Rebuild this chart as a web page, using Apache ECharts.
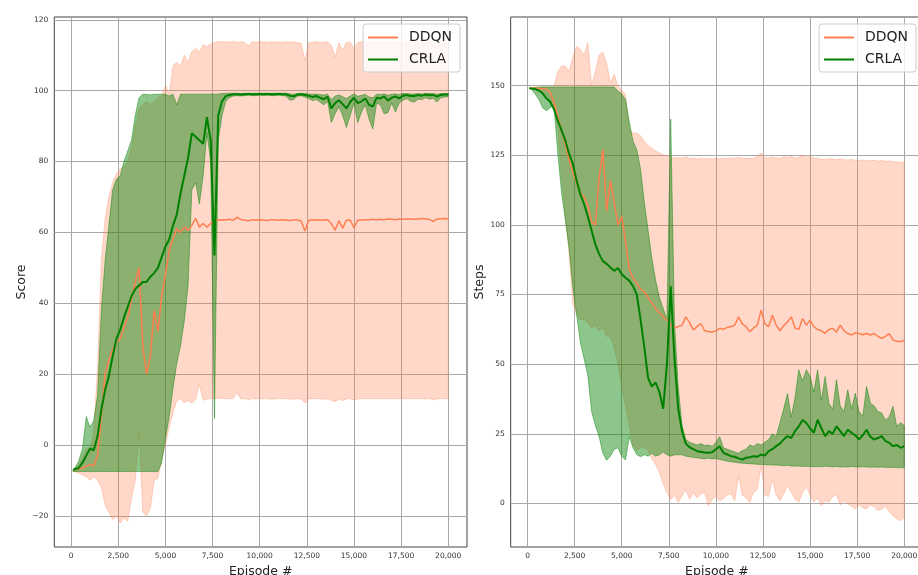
<!DOCTYPE html>
<html><head><meta charset="utf-8">
<script src="https://cdn.jsdelivr.net/npm/echarts@6/dist/echarts.min.js"></script>
<style>html,body{margin:0;padding:0;background:#fff}#c{width:918px;height:575px}</style>
</head><body><div id="c"></div>
<script>
const episodes = [100,200,400,600,800,1000,1200,1400,1600,1800,
 2000,2200,2400,2600,2800,3000,3200,3400,3600,3800,
 4000,4200,4400,4600,4800,5000,5200,5400,5600,5800,
 6000,6200,6400,6600,6800,7000,7200,7400,7600,7800,
 8000,
 8200,8400,8600,8800,9000,9200,9400,9600,9800,10000,
 10200,10400,10600,10800,11000,11200,11400,11600,11800,12000,
 12200,12400,12600,12800,13000,13200,13400,13600,13800,14000,
 14200,14400,14600,14800,15000,15200,15400,15600,15800,16000,
 16200,16400,16600,16800,17000,17200,17400,17600,17800,18000,
 18200,18400,18600,18800,19000,19200,19400,19600,19800,20000];

const xTicks = [0,2500,5000,7500,10000,12500,15000,17500,20000];
const scoreTicks = [-20,0,20,40,60,80,100,120];
const stepsTicks = [0,25,50,75,100,125,150];
const seriesNames = ['DDQN','CRLA'];

// ---- Score (left) ----
const scoreDdqnMean = [-7,-7,-6.8,-6.5,-6,-5.5,-5.8,-3,8,20,
 24,27,29,30,33,36,41,46,50,28,
 20,25,38,32,42,48,55,58,61,60,
 61.5,60.5,62,64,61.5,62.5,61.5,62.5,63,63.5,
 63.6,
 63.5,63.7,63.4,64.3,63.6,63.5,63.2,63.6,63.4,63.6,
 63.5,63.3,63.6,63.5,63.4,63.6,63.5,63.3,63.6,63.5,
 63.2,60.4,63.4,63.5,63.6,63.4,63.5,63.6,62.5,60.6,
 63.3,61.2,63.4,63.5,61.3,63.4,63.5,63.6,63.6,63.7,
 63.6,63.7,63.6,63.8,63.7,63.6,63.8,63.7,63.8,63.8,
 63.7,63.8,63.9,63.8,63.7,63.1,63.8,63.8,63.9,63.8];
const scoreDdqnUpper = [-7,-6.5,-5.5,-3.5,-1,-1.5,4,22,52,64,
 70,74,76.5,78,78.5,80,84,90,95,96,
 97,96,97,98,98.5,101.5,99,107,108,107,
 110,108,111,112,111,113,112.5,113.2,113.6,113.8,
 113.8,
 113.8,113.7,113.9,113.6,113.8,113.7,112.6,113.8,113.7,113.8,
 113.8,113.6,113.8,113.7,113.8,113.6,113.8,113.7,113.8,113.6,
 113.3,108.5,113.5,113.7,113.8,113.6,113.7,113.8,112.8,109.5,
 113.5,111.5,113.6,113.7,112,113.6,113.8,113.7,113.8,113.8,
 113.7,113.8,113.6,113.8,113.7,113.8,113.7,113.8,113.7,113.8,
 113.8,113.7,113.8,113.7,113.8,113.2,113.8,113.7,113.8,113.8];
const scoreDdqnLower = [-7.5,-7.5,-8,-8.5,-9,-10,-9,-10,-12,-17,
 -19,-21,-20,-22,-20.5,-21.5,-15,-10,4,-19,
 -20,-18,-10,-9.5,-4,0,5,9,12.5,13,
 12,12.5,11.8,12.8,17,12.6,13,13.1,13,13.2,
 13.1,
 13.1,13,13.2,14.8,13,13.1,12.8,13.1,13,13.1,
 13,13.1,12.9,13,13.1,13,13.1,12.9,13,13.1,
 13,11.8,13,13.1,13,13.1,12.9,13,12.6,12.2,
 13,12.5,13,13.1,12.6,13,13.1,13,13.1,13,
 13.1,13,13.1,13,13.1,13,13.1,13,13.1,13,
 13.1,13,13.1,13,13.1,12.7,13,13.1,13,13.1];
const scoreCrlaMean = [-7,-7,-6.5,-5,-3,-1,-1.5,2.5,10,15.5,
 19.5,25,30,32.5,36,39,42,44,45,46,
 46,47.5,48.5,50,53,56,58,62,65,71,
 76,81,88,87,86,85,92.5,86,53.5,93,
 97,
 98.5,98.8,99,99,98.9,99,99.1,99,99,99.1,
 99,99.1,99,99,99.1,99,99,98.6,98.4,98.9,
 99,98.8,98.6,98.2,98.5,98,97.6,98.3,95,96.5,
 97.3,96.2,95,96.8,98,96.5,97,97.8,96,95.5,
 98,97.8,98.4,97.2,98,98.4,97.8,98.6,98.8,98.5,
 98.5,98.8,98.6,98.9,98.7,98.8,98.3,98.8,98.9,98.9];
const scoreCrlaUpper = [-7,-6.5,-4.5,-1,8,5,7,14,38,52,
 62,72,75,76,80,83,86,93,98,99,
 99,98.8,99,99,99,99,98.5,99,96,99,
 99,99,99,99,99,99,99,99,99,99,
 99.2,
 99.2,99.3,99.3,99.3,99.2,99.3,99.3,99.3,99.3,99.3,
 99.3,99.3,99.3,99.3,99.3,99.3,99.3,99.1,99,99.2,
 99.3,99.2,99.1,99,99.1,98.9,98.8,99,97.5,98.5,
 98.8,98.3,97.8,98.5,99.1,98.4,98.7,99,98.2,98,
 99,98.9,99.1,98.7,99,99.1,98.9,99.2,99.2,99.1,
 99.1,99.2,99.1,99.2,99.2,99.2,99,99.2,99.2,99.2];
const scoreCrlaLower = [-7.5,-7.5,-7.5,-7.5,-7.5,-7.5,-7.5,-7.5,-7.5,-7.5,
 -7.5,-7.5,-7.5,-7.5,-7.5,-7.5,-7.5,-7.5,-7.5,-7.5,
 -7.5,-7.5,-7.5,-7.5,-5,2,8,16,23,28,
 35,45,72,74,68,76,88,80,7.5,86,
 93,
 97,98,98.5,98.6,98.5,98.6,98.7,98.6,98.6,98.7,
 98.6,98.7,98.6,98.6,98.7,98.6,98.5,97.3,97.5,98.4,
 98.6,98.2,97.8,97.2,97.5,96.8,96,97,91,93.5,
 95.5,93,89.6,93,96.5,91,94,96,92,89.2,
 96.5,96,93.5,93.8,96.5,94,96.5,97.3,97.8,97,
 96.8,97.6,97.5,98,97.6,97.8,96.8,98,98.2,98.3];

// ---- Steps (right) ----
const stepsDdqnMean = [149,149,149,149,148.8,148.6,147.5,144,139,134,
 129,123.5,119,115,111.5,110,107,101,100,117,
 127,105,116,108,100,103,94,84,81,79,
 77,76,74,72,70,68.5,67,66,64,63,
 63.5,
 64,67,65,62.3,63.5,64.6,62,61.7,61.5,62,
 62.9,62.5,63.2,63.5,64,67,64.5,63.5,61.7,63,
 64,69.4,64.5,63.5,67.6,64,62,63.8,65.2,67,
 63,62.5,66.4,64,65.8,63.5,62.5,62,61.1,62.5,
 62.8,61.5,64,62,61,60.5,61.2,61,60.6,61,
 60.5,61,60,59.3,60,61,58.7,58.2,58.1,58.6];
const stepsDdqnUpper = [149.2,149.3,149.4,149.5,149.5,149.5,149.5,149.6,155,157,
 157,155,160,164,163,161,165.5,150,155,161,
 162,158,151,154,150,148,147,134,133,133,
 132,130,128.5,127.5,126.5,125.8,125.2,124.8,124.3,124,
 124.2,
 124,124.5,123.8,124,123.6,124,123.7,123.9,123.6,124,
 123.7,123.9,123.8,124.1,123.8,124.3,123.9,123.8,124,123.9,
 124.5,125.8,124.3,124,124.4,124.1,123.8,124.5,124.2,124.6,
 124,124.3,125,124.3,124.6,124,123.8,123.6,123.5,123.8,
 123.6,123.4,123.7,123.4,123.3,123.5,123.2,123.1,123.3,123.1,
 123,123.2,122.9,123.1,122.8,123,122.7,122.6,122.5,122.5];
const stepsDdqnLower = [148.8,148.8,148.5,148,147.5,146.5,145,142,135,118,
 104,90,72,68,66,66,65,63,64,62,
 63,60,60,56,50,42,35,28,21,19,
 20,20,19,16,14,11,7,4,1.5,3,
 0.5,
 2.7,5,1.5,3.9,2,3.5,4,-0.8,1.5,2.5,
 1,1.8,3,3.5,1,9.9,3,2,0.4,4,
 5,13.5,3,2.5,8.7,3,1,3.5,6.3,4,
 1.5,0.5,4,6,3,0.5,2,-0.8,1,0.5,
 2.5,3,-0.5,1,0,-1,-2,-0.5,-1.5,-2,
 -0.5,-1.2,-2.5,-2,-1,-3,-4.4,-5.5,-6.2,-5];
const stepsCrlaMean = [149,149,148.8,148.2,147.2,145.4,144.2,141.5,137.5,134,
 130.4,125.6,122,116,111,107.5,103,98,93,89.5,
 87,86,84.7,83.5,84.5,82.3,81,80,78,75,
 66,56,45,42,43.5,40,34,50,78,52,
 34,
 26,21.5,20.2,19.5,18.8,18.6,18.3,18.2,18.4,19.5,
 20.5,18.2,17.6,17,16.8,16.2,15.8,16.4,16.6,17,
 16.8,17.6,17.2,18.8,19.5,20.6,21.5,23,24.2,23.5,
 26,27.7,30,28.9,27,25.4,30.1,27,24.2,26,
 25,27.7,26,24.2,26.5,25.4,24.5,23,24.5,26.5,
 24,23,23.5,24.2,22.5,21.8,20.6,21,20,20.6];
const stepsCrlaUpper = [149,149,149.3,149.4,149.5,149.5,149.5,149.5,149.5,149.5,
 149.5,149.5,149.5,149.5,149.5,149.5,149.5,149.5,149.5,149.5,
 149.5,149.5,149.5,149.5,148,147,145,137,130,127,
 120,108,98,88,80,74,70,66,138,65,
 42,
 28,23,22,21.5,21,21.5,20.8,21,20.5,22,
 24,20,19.5,19,18.5,18,19,19.5,21,20.5,
 21.5,21,22,23,25,24,29,34,39.5,31,
 38,48,44,48,45.6,40,48,37,45.6,36,
 33.7,44.4,35,33,40.8,34,39.6,33,31.3,42,
 36,35,33,32.5,30,31,34.9,27.7,29,28];
const stepsCrlaLower = [149,148.8,147,145,142,141,142,143,126,112,
 102,92,78,68,58,52,46,33,28,24,
 18,15.5,17,19.5,20,17,15.6,24,20,17.5,
 16.8,17.5,17,18,17,17.5,18.5,17.5,17,17.5,
 17.5,
 17.5,17,16.8,16.5,16.4,16.2,16,16.3,16,16.2,
 15.8,15.5,15.2,15,14.8,14.6,14.5,14.4,14.3,14.2,
 14.1,14,13.9,13.9,13.8,13.8,13.7,13.6,13.7,13.5,
 13.4,13.5,13.3,13.4,13.3,13.2,13.3,13.2,13.4,13.3,
 13.2,13.3,13.1,13.2,13.1,13.3,13.2,13.1,13.2,13.1,
 13,13.1,13,13.1,13,12.9,13,12.9,12.8,12.9];

const DDQN_COLOR = '#FF7F50';
const CRLA_COLOR = '#008000';
const FONT = 'DejaVu Sans';

function pairs(ys){ return episodes.map((x,i)=>[x, ys[i]]); }
// One filled polygon per band, built from the axis scales via api.coord
function band(lower, upper, color, alpha, gi){
  return {type:'custom', xAxisIndex:gi, yAxisIndex:gi, silent:true, clip:true, animation:false,
    data: episodes.map((x,i)=>[x, lower[i], upper[i]]),
    encode:{x:0, y:[1,2]},
    renderItem: function(params, api){
      if (params.dataIndex !== 0) return null;
      const pts = [];
      for (let i=0;i<episodes.length;i++) pts.push(api.coord([episodes[i], upper[i]]));
      for (let i=episodes.length-1;i>=0;i--) pts.push(api.coord([episodes[i], lower[i]]));
      return {type:'polygon', shape:{points:pts},
        style:{fill:color, opacity:alpha, stroke:color, lineWidth:1}};
    }};
}
function meanLine(name, ys, color, width, gi){
  return {type:'line', name:name, xAxisIndex:gi, yAxisIndex:gi, data:pairs(ys), symbol:'none',
    lineStyle:{color:color, width:width}, itemStyle:{color:color}, silent:true, animation:false, clip:true};
}
const minusFmt = v => v < 0 ? '\u2212' + Math.abs(v) : String(v);
function xAxis(gi){
  return {type:'value', gridIndex:gi, min:-895, max:20995,
    name:'Episode #', nameLocation:'middle', nameGap:16,
    nameTextStyle:{fontFamily:FONT, fontSize:12.5, color:'#222'},
    axisLine:{show:false},
    axisTick:{show:false, customValues:xTicks},
    axisLabel:{customValues:xTicks, formatter:v=>echarts.format.addCommas(v), fontFamily:FONT, fontSize:7.5, color:'#333', margin:5},
    splitLine:{show:true, lineStyle:{color:'#a8a8a8', width:1}}};
}
function yAxis(gi, min, max, ticks, name, gap){
  return {type:'value', gridIndex:gi, min:min, max:max,
    name:name, nameLocation:'middle', nameGap:gap,
    nameTextStyle:{fontFamily:FONT, fontSize:12.5, color:'#222'},
    axisLine:{show:false},
    axisTick:{show:false, customValues:ticks},
    axisLabel:{customValues:ticks, formatter:minusFmt, fontFamily:FONT, fontSize:7.5, color:'#333', margin:6},
    splitLine:{show:true, lineStyle:{color:'#a8a8a8', width:1}}};
}
const legendCommon = {data:seriesNames, orient:'vertical', top:24, icon:'rect', itemWidth:30, itemHeight:2, itemGap:5,
  padding:[5,8,4,5], backgroundColor:'rgba(255,255,255,0.8)', borderColor:'#cccccc', borderWidth:1, borderRadius:3,
  selectedMode:false,
  textStyle:{fontFamily:FONT, fontSize:14, color:'#222', padding:[0,0,0,6], lineHeight:17}};

const chart = echarts.init(document.getElementById('c'), null, {renderer:'canvas'});
chart.setOption({
  animation:false,
  backgroundColor:'#ffffff',
  grid:[
    {left:54.3, top:17, width:412.7, height:530, show:true, borderColor:'#444', borderWidth:1, outerBoundsMode:'none', containLabel:false},
    {left:510.7, top:17, width:412.3, height:530, show:true, borderColor:'#444', borderWidth:1, outerBoundsMode:'none', containLabel:false}
  ],
  xAxis:[xAxis(0), xAxis(1)],
  yAxis:[yAxis(0,-28.8,120.8,scoreTicks,'Score',25), yAxis(1,-15.6,174.6,stepsTicks,'Steps',24)],
  legend:[Object.assign({}, legendCommon, {left:363}), Object.assign({}, legendCommon, {left:819})],
  series:[
    band(scoreDdqnLower, scoreDdqnUpper, DDQN_COLOR, 0.3, 0),
    band(scoreCrlaLower, scoreCrlaUpper, CRLA_COLOR, 0.45, 0),
    band(stepsDdqnLower, stepsDdqnUpper, DDQN_COLOR, 0.3, 1),
    band(stepsCrlaLower, stepsCrlaUpper, CRLA_COLOR, 0.45, 1),
    meanLine('DDQN', scoreDdqnMean, DDQN_COLOR, 1.5, 0),
    meanLine('CRLA', scoreCrlaMean, CRLA_COLOR, 2, 0),
    meanLine('DDQN', stepsDdqnMean, DDQN_COLOR, 1.5, 1),
    meanLine('CRLA', stepsCrlaMean, CRLA_COLOR, 2, 1)
  ]
});
</script>
</body></html>
